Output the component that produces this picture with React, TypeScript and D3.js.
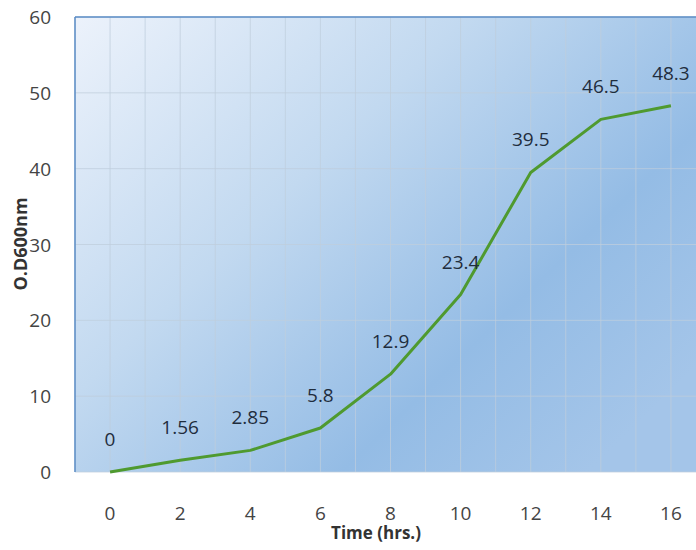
import React from "react";
import * as d3 from "d3";

// Growth curve: optical density at 600 nm over time
const hours = [0, 2, 4, 6, 8, 10, 12, 14, 16];
const odValues = [0, 1.56, 2.85, 5.8, 12.9, 23.4, 39.5, 46.5, 48.3];
const odLabels = ["0", "1.56", "2.85", "5.8", "12.9", "23.4", "39.5", "46.5", "48.3"];
const yTicks = [0, 10, 20, 30, 40, 50, 60];
const xGrid = d3.range(-1, 18, 1);

const W = 696;
const H = 550;
const plot = { left: 75, top: 17, right: 706, bottom: 472 };
const font = "'Open Sans', 'Liberation Sans', sans-serif";

export default function App() {
  const x = d3.scaleLinear().domain([-1, 17]).range([plot.left, plot.right]);
  const y = d3.scaleLinear().domain([0, 60]).range([plot.bottom, plot.top]);

  const line = d3
    .line<number>()
    .x((_, i) => x(hours[i]))
    .y((d) => y(d));

  return (
    <svg
      width={W}
      height={H}
      style={{ position: "absolute", left: 0, top: 0, background: "#ffffff" }}
    >
      <defs>
        <linearGradient id="plotBg" x1="0" y1="0" x2="1" y2="0.75">
          <stop offset="0%" stopColor="#ecf2fb" />
          <stop offset="40%" stopColor="#c2d9f0" />
          <stop offset="75%" stopColor="#94bce5" />
          <stop offset="100%" stopColor="#a4c5e9" />
        </linearGradient>
      </defs>

      <rect
        x={plot.left}
        y={plot.top}
        width={plot.right - plot.left}
        height={plot.bottom - plot.top}
        fill="url(#plotBg)"
      />

      {/* grid */}
      <g stroke="#bfcddc" strokeOpacity={0.75} strokeWidth={1}>
        {xGrid.map((v) => (
          <line key={"gx" + v} x1={x(v)} x2={x(v)} y1={plot.top} y2={plot.bottom} />
        ))}
        {yTicks.map((v) => (
          <line key={"gy" + v} x1={plot.left} x2={plot.right} y1={y(v)} y2={y(v)} />
        ))}
      </g>

      {/* plot border (left and top) */}
      <line x1={plot.left} x2={plot.left} y1={plot.top} y2={plot.bottom} stroke="#5b8cc6" strokeWidth={1.5} />
      <line x1={plot.left} x2={plot.right} y1={plot.top} y2={plot.top} stroke="#5b8cc6" strokeWidth={1.5} />

      {/* series */}
      <path
        d={line(odValues) || ""}
        fill="none"
        stroke="#4f9a2f"
        strokeWidth={3}
        strokeLinejoin="round"
      />

      {/* data labels */}
      <g fontFamily={font} fontSize={19} fill="#1f2d3d" textAnchor="middle">
        {odValues.map((v, i) => (
          <text key={"dl" + i} x={x(hours[i])} y={y(v) - 26}>
            {odLabels[i]}
          </text>
        ))}
      </g>

      {/* y tick labels */}
      <g fontFamily={font} fontSize={19} fill="#444" textAnchor="end">
        {yTicks.map((v) => (
          <text key={"yt" + v} x={51} y={y(v) + 7}>
            {v}
          </text>
        ))}
      </g>

      {/* x tick labels */}
      <g fontFamily={font} fontSize={19} fill="#444" textAnchor="middle">
        {hours.map((h) => (
          <text key={"xt" + h} x={x(h)} y={520}>
            {h}
          </text>
        ))}
      </g>

      {/* axis titles */}
      <text
        x={376}
        y={539}
        textAnchor="middle"
        fontFamily={font}
        fontSize={17}
        fontWeight="bold"
        fill="#333"
      >
        Time (hrs.)
      </text>
      <text
        transform={`translate(27,244) rotate(-90)`}
        textAnchor="middle"
        fontFamily={font}
        fontSize={18}
        fontWeight="bold"
        fill="#333"
      >
        O.D600nm
      </text>
    </svg>
  );
}
